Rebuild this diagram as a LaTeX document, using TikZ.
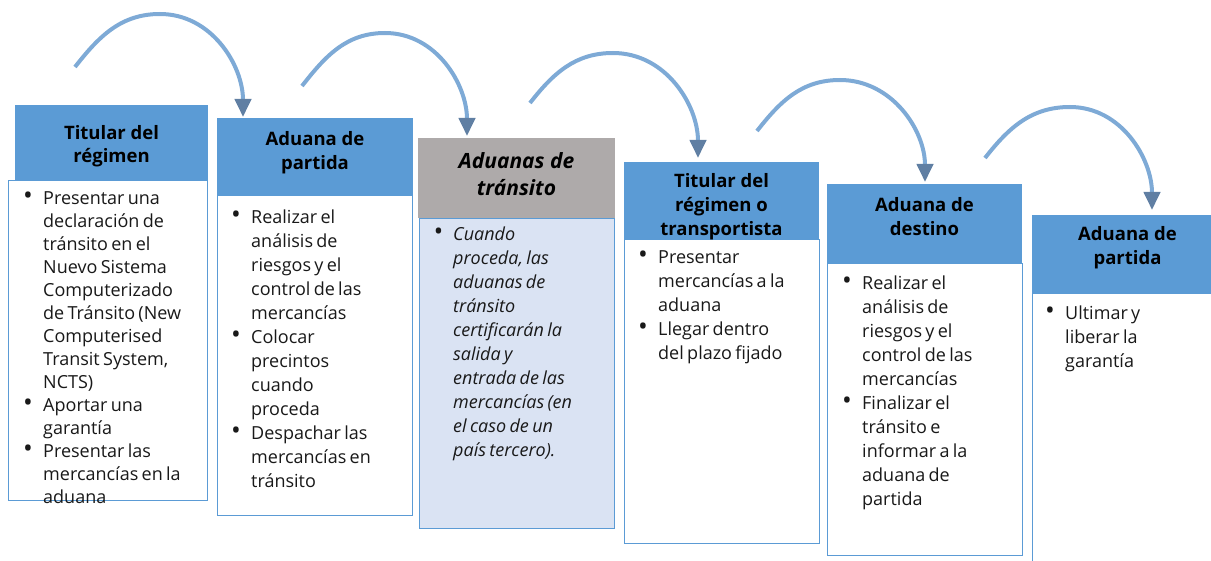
\documentclass[tikz,border=0pt]{standalone}
\usepackage{fontspec}
\setmainfont{Open Sans}
\usetikzlibrary{arrows.meta}
\definecolor{hblue}{RGB}{91,155,213}
\definecolor{hgray}{RGB}{174,170,170}
\definecolor{bfill}{RGB}{218,227,243}
\definecolor{arcblue}{RGB}{126,170,214}
\definecolor{tipblue}{RGB}{96,127,163}
\definecolor{txt}{RGB}{25,25,25}
\newcommand{\nl}{\hfil\break}
\newcommand{\bitem}[1]{\par\noindent\hangindent=20pt\hangafter=1\makebox[20pt][l]{\strut{\fontsize{26}{24}\selectfont\textbullet}}#1\par}
\begin{document}
\begin{tikzpicture}[x=1pt,y=1pt,
  hdr/.style={fill=hblue, draw=none, inner sep=0pt, anchor=north west},
  bodybox/.style={draw=hblue, line width=1.2pt, fill=white, inner sep=0pt, anchor=north west},
  htext/.style={align=center, font=\bfseries\fontsize{18.5}{24}\selectfont, text=black, inner sep=0pt},
  btext/.style={text width=190pt, align=left, inner sep=0pt, anchor=north west, text=txt},
  hop/.style={draw=arcblue, line width=4pt, -{Triangle[width=16pt,length=18pt,fill=tipblue,color=tipblue]}}]
\useasboundingbox (0,0) rectangle (1211,-561);
\clip (0,0) rectangle (1211,-561);

% column 1
\node[bodybox, minimum width=199pt, minimum height=320pt] (b1) at (8,-180) {};
\node[hdr, minimum width=193pt, minimum height=75pt] (h1) at (15,-105) {};
\node[htext, font=\bfseries\fontsize{18.5}{23}\selectfont] (t1) at (111.5,-146) {Titular del\\régimen};
\node[btext] (l1) at (23,-181.4) {\fontsize{18}{23}\selectfont
\bitem{Presentar una\nl declaración de\nl tránsito en el\nl Nuevo Sistema\nl Computerizado\nl de Tránsito (New\nl Computerised\nl Transit System,\nl NCTS)}
\bitem{Aportar una\nl garantía}
\bitem{Presentar las\nl mercancías en la\nl aduana}};

% column 2
\node[bodybox, minimum width=195pt, minimum height=320pt] (b2) at (217,-195) {};
\node[hdr, minimum width=196pt, minimum height=77pt] (h2) at (217,-118) {};
\node[htext] (t2) at (315,-153) {Aduana de\\partida};
\node[btext] (l2) at (231,-199.7) {\fontsize{18}{24}\selectfont
\bitem{Realizar el\nl análisis de\nl riesgos y el\nl control de las\nl mercancías}
\bitem{Colocar\nl precintos\nl cuando\nl proceda}
\bitem{Despachar las\nl mercancías en\nl tránsito}};

% column 3
\node[bodybox, fill=bfill, minimum width=195pt, minimum height=310pt] (b3) at (419,-218) {};
\node[hdr, fill=hgray, minimum width=197pt, minimum height=80pt] (h3) at (418,-138) {};
\node[htext, font=\bfseries\itshape\fontsize{21}{27}\selectfont] (t3) at (516.5,-174.5) {Aduanas de\\tránsito};
\node[btext, font=\itshape] (l3) at (433,-216.7) {\fontsize{18}{24}\selectfont
\bitem{Cuando\nl proceda, las\nl aduanas de\nl tránsito\nl certificarán la\nl salida y\nl entrada de las\nl mercancías (en\nl el caso de un\nl país tercero).}};

% column 4
\node[bodybox, minimum width=195pt, minimum height=304pt] (b4) at (624,-239) {};
\node[hdr, minimum width=195pt, minimum height=77pt] (h4) at (624,-162) {};
\node[htext] (t4) at (721.5,-207) {Titular del\\régimen o\\transportista};
\node[btext] (l4) at (638,-239.7) {\fontsize{18}{24}\selectfont
\bitem{Presentar\nl mercancías a la\nl aduana}
\bitem{Llegar dentro\nl del plazo fijado}};

% column 5
\node[bodybox, minimum width=195pt, minimum height=292pt] (b5) at (827,-263) {};
\node[hdr, minimum width=195pt, minimum height=79pt] (h5) at (827,-184) {};
\node[htext] (t5) at (924.5,-216.5) {Aduana de\\destino};
\node[btext] (l5) at (842,-265.7) {\fontsize{18}{24}\selectfont
\bitem{Realizar el\nl análisis de\nl riesgos y el\nl control de las\nl mercancías}
\bitem{Finalizar el\nl tránsito e\nl informar a la\nl aduana de\nl partida}};

% column 6
\node[bodybox, minimum width=195pt, minimum height=290pt] (b6) at (1032,-293) {};
\node[hdr, minimum width=195pt, minimum height=78pt] (h6) at (1032,-215) {};
\node[htext] (t6) at (1127.5,-248) {Aduana de\\partida};
\node[btext] (l6) at (1045,-295.7) {\fontsize{18}{24}\selectfont
\bitem{Ultimar y\nl liberar la\nl garantía}};

% hop arrows
\coordinate (s1) at (75,-67);   \coordinate (p1) at (160,-14);  \coordinate (e1) at (243,-117);
\coordinate (s2) at (302,-86);  \coordinate (p2) at (385,-33);  \coordinate (e2) at (467,-136);
\coordinate (s3) at (530,-103); \coordinate (p3) at (613,-53);  \coordinate (e3) at (698,-158);
\coordinate (s4) at (757,-131); \coordinate (p4) at (840,-80);  \coordinate (e4) at (925,-182);
\coordinate (s5) at (985,-158); \coordinate (p5) at (1070,-107); \coordinate (e5) at (1152,-210);
\foreach \i in {1,...,5}{
  \draw[hop] (s\i) to[out=52,in=180] (p\i) to[out=0,in=90] (e\i);
}
\end{tikzpicture}
\end{document}
